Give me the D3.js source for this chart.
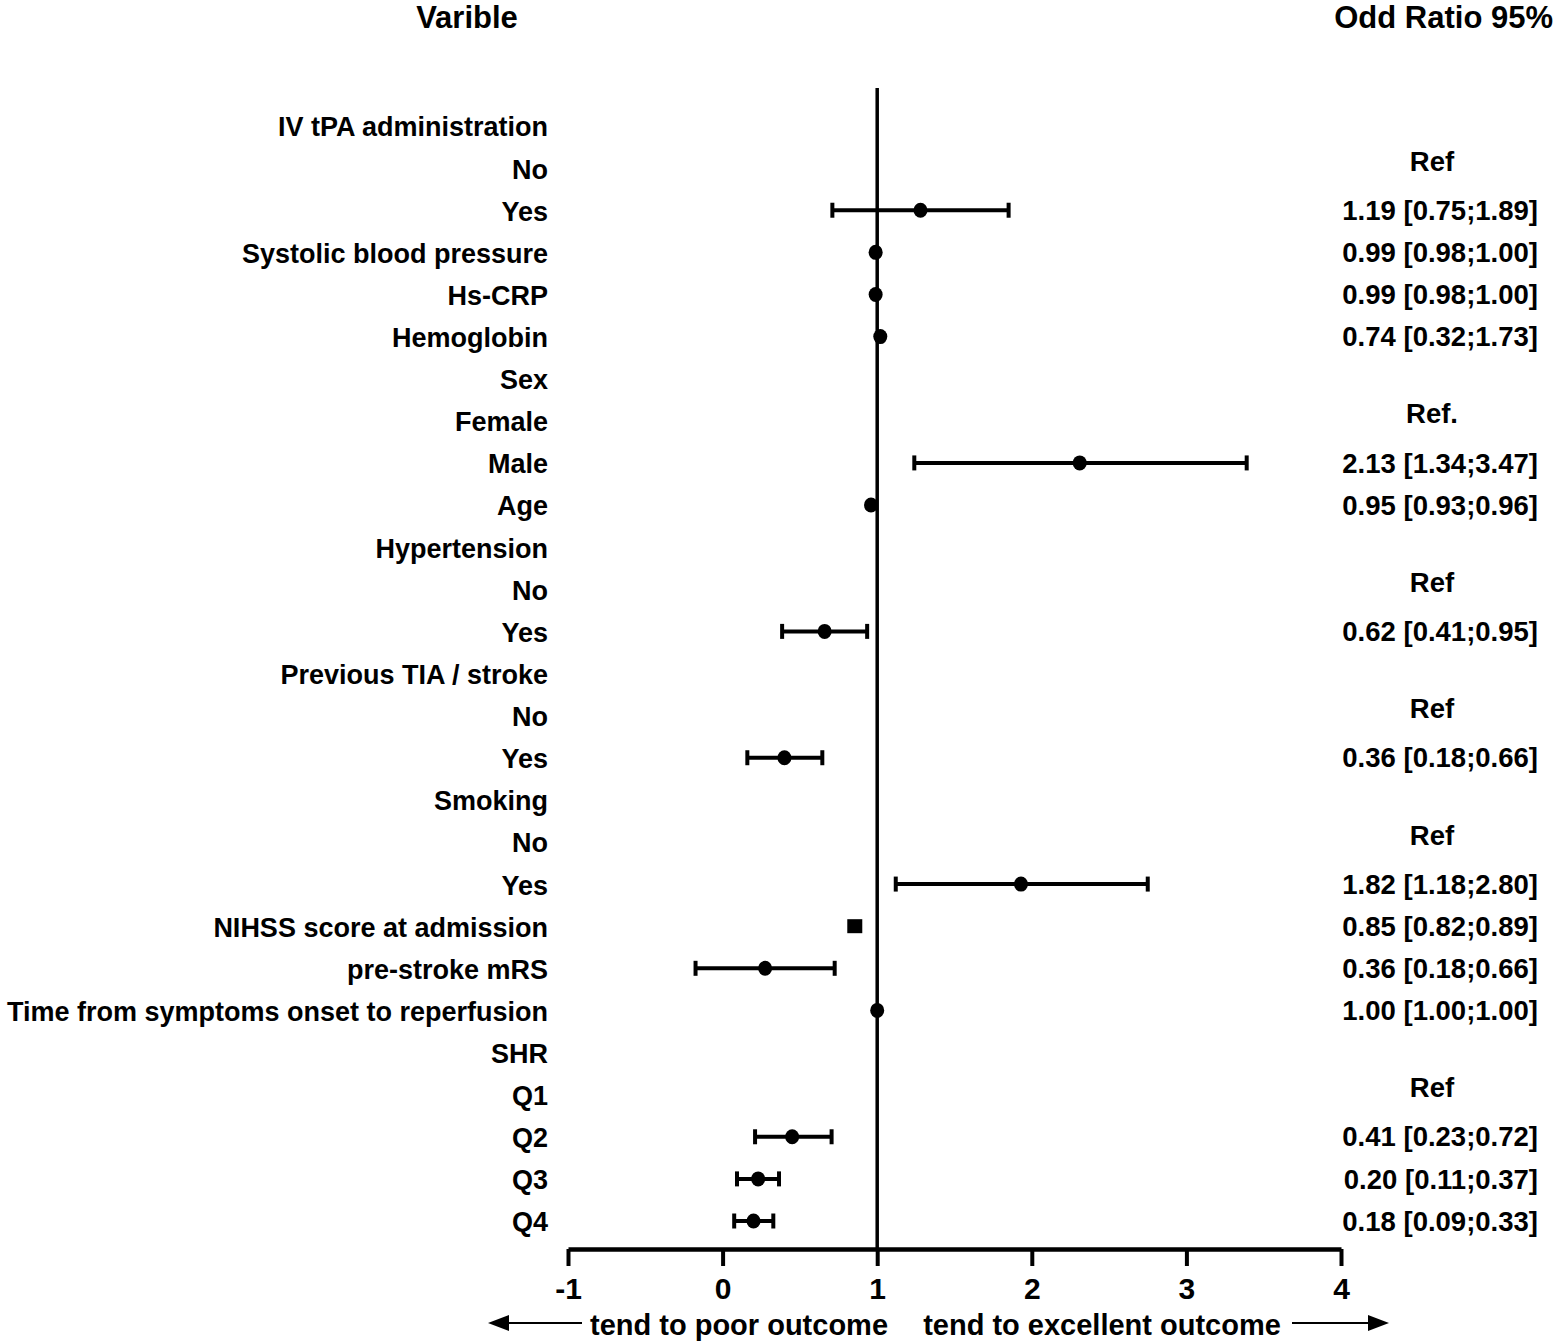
<!DOCTYPE html>
<html>
<head>
<meta charset="utf-8">
<script src="https://cdn.jsdelivr.net/npm/d3@7"></script>
<style>
  body { margin: 0; background: #fff; }
  text { font-family: "Liberation Sans", Arial, sans-serif; font-weight: bold; fill: #000; }
</style>
</head>
<body>
<svg id="forest" width="1559" height="1344"></svg>
<script>
// rows, top to bottom
let labels = ["IV tPA administration", "No", "Yes", "Systolic blood pressure", "Hs-CRP", "Hemoglobin",
  "Sex", "Female", "Male", "Age", "Hypertension", "No", "Yes", "Previous TIA / stroke", "No", "Yes",
  "Smoking", "No", "Yes", "NIHSS score at admission", "pre-stroke mRS",
  "Time from symptoms onset to reperfusion", "SHR", "Q1", "Q2", "Q3", "Q4"];

// plotted point and whiskers as they sit on the axis
let est   = [null, null, 1.28, 0.99, 0.99, 1.02, null, null, 2.31, 0.96, null, null, 0.66, null, null, 0.40,
  null, null, 1.93, 0.855, 0.275, 1.00, null, null, 0.45, 0.23, 0.20];
let lower = [null, null, 0.71, null, null, null, null, null, 1.24, null, null, null, 0.385, null, null, 0.16,
  null, null, 1.12, null, -0.175, null, null, null, 0.21, 0.093, 0.075];
let upper = [null, null, 1.85, null, null, null, null, null, 3.39, null, null, null, 0.935, null, null, 0.645,
  null, null, 2.75, null, 0.725, null, null, null, 0.705, 0.365, 0.328];
let shape = labels.map((d, i) => i == 19 ? "square" : "circle");

let orText = ["", "Ref", "1.19 [0.75;1.89]", "0.99 [0.98;1.00]", "0.99 [0.98;1.00]", "0.74 [0.32;1.73]",
  "", "Ref.", "2.13 [1.34;3.47]", "0.95 [0.93;0.96]", "", "Ref", "0.62 [0.41;0.95]", "", "Ref", "0.36 [0.18;0.66]",
  "", "Ref", "1.82 [1.18;2.80]", "0.85 [0.82;0.89]", "0.36 [0.18;0.66]", "1.00 [1.00;1.00]",
  "", "Ref", "0.41 [0.23;0.72]", "0.20 [0.11;0.37]", "0.18 [0.09;0.33]"];

let xTicks = [-1, 0, 1, 2, 3, 4];

let svg = d3.select("svg#forest");
let axisY = 1249;

let xScale = d3.scaleLinear().domain([-1, 4]).range([568, 1341]);
let yScale = d3.scalePoint().domain(d3.range(labels.length)).range([126, 1221]);

// headers
svg.append("text").attr("x", 467).attr("y", 17).attr("dy", "0.35em")
  .attr("text-anchor", "middle").style("font-size", "31px").text("Varible");
svg.append("text").attr("x", 1553).attr("y", 17).attr("dy", "0.35em")
  .attr("text-anchor", "end").style("font-size", "31px").text("Odd Ratio 95%");

// row labels
svg.selectAll("text.lab").data(labels).enter().append("text")
  .attr("class", "lab")
  .attr("x", 548)
  .attr("y", (d, i) => yScale(i) + 1)
  .attr("dy", "0.35em")
  .attr("text-anchor", "end")
  .style("font-size", "27px")
  .text(d => d);

// OR column
svg.selectAll("text.or").data(orText).enter().append("text")
  .attr("class", "or")
  .attr("x", d => d.startsWith("Ref") ? 1432 : 1538)
  .attr("y", (d, i) => yScale(i) + (d.startsWith("Ref") ? -7 : 0))
  .attr("dy", "0.35em")
  .attr("text-anchor", d => d.startsWith("Ref") ? "middle" : "end")
  .style("font-size", "27.5px")
  .text(d => d);

// reference line at 1
svg.append("line")
  .attr("x1", xScale(1)).attr("x2", xScale(1))
  .attr("y1", 88).attr("y2", axisY)
  .attr("stroke", "#000").attr("stroke-width", 3.5);

// x axis
let axis = svg.append("g").attr("transform", "translate(0," + axisY + ")")
  .call(d3.axisBottom(xScale).tickValues(xTicks).tickFormat(d => String(d))
    .tickSize(17).tickSizeOuter(0).tickPadding(12));
axis.select(".domain").attr("stroke-width", 4.5);
axis.selectAll(".tick line").attr("stroke-width", 4);
axis.selectAll(".tick text").style("font-size", "30px")
  .style("font-family", "'Liberation Sans', Arial, sans-serif").style("font-weight", "bold");

// whiskers
let rows = d3.range(labels.length).filter(i => lower[i] != null);
let g = svg.append("g").attr("stroke", "#000");
rows.forEach(function(i) {
  let y = yScale(i);
  g.append("line").attr("x1", xScale(lower[i])).attr("x2", xScale(upper[i]))
    .attr("y1", y).attr("y2", y).attr("stroke-width", 4);
  [lower[i], upper[i]].forEach(function(v) {
    g.append("line").attr("x1", xScale(v)).attr("x2", xScale(v))
      .attr("y1", y - 7.5).attr("y2", y + 7.5).attr("stroke-width", 4);
  });
});

// points
d3.range(labels.length).filter(i => est[i] != null).forEach(function(i) {
  if (shape[i] == "square") {
    svg.append("rect").attr("x", xScale(est[i]) - 7.5).attr("y", yScale(i) - 7)
      .attr("width", 15).attr("height", 14).attr("fill", "#000");
  } else {
    svg.append("ellipse").attr("cx", xScale(est[i])).attr("cy", yScale(i))
      .attr("rx", 7).attr("ry", 7.5).attr("fill", "#000");
  }
});

// direction arrows
let arrowY = 1323;
svg.append("line").attr("x1", 500).attr("x2", 582).attr("y1", arrowY).attr("y2", arrowY)
  .attr("stroke", "#000").attr("stroke-width", 2.2);
svg.append("path").attr("d", `M488,${arrowY} L509,${arrowY - 8} L509,${arrowY + 8} Z`).attr("fill", "#000");
svg.append("line").attr("x1", 1292).attr("x2", 1375).attr("y1", arrowY).attr("y2", arrowY)
  .attr("stroke", "#000").attr("stroke-width", 2.2);
svg.append("path").attr("d", `M1389,${arrowY} L1368,${arrowY - 8} L1368,${arrowY + 8} Z`).attr("fill", "#000");
svg.append("text").attr("x", 739).attr("y", 1325).attr("dy", "0.35em")
  .attr("text-anchor", "middle").style("font-size", "29px").text("tend to poor outcome");
svg.append("text").attr("x", 1102).attr("y", 1325).attr("dy", "0.35em")
  .attr("text-anchor", "middle").style("font-size", "29px").text("tend to excellent outcome");
</script>
</body>
</html>
